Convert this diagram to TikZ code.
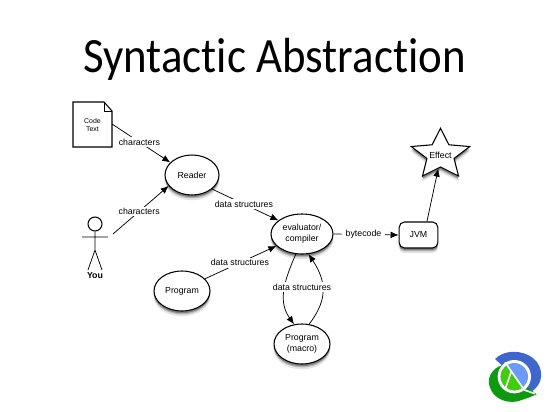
\documentclass[tikz,border=0pt]{standalone}
\usepackage{fontspec}
\setmainfont{Liberation Sans}
\newfontfamily\titlefont[Ligatures=NoCommon]{Carlito}
\usepackage{xcolor}
\usetikzlibrary{arrows.meta, shapes.geometric, shadows}
\definecolor{cljblue}{HTML}{3F66CC}
\definecolor{cljsky}{HTML}{6C9BF5}
\definecolor{cljgreen}{HTML}{0E9A0E}
\definecolor{cljlime}{HTML}{3FCF0A}
\tikzset{
  softshadow/.style={
    general shadow={shadow xshift=0pt, shadow yshift=-3.6pt, shadow scale=1.02, fill=black, opacity=.10},
    general shadow={shadow xshift=0pt, shadow yshift=-2.6pt, fill=black, opacity=.20},
    general shadow={shadow xshift=0pt, shadow yshift=-1.6pt, fill=black, opacity=.30}},
  blob/.style={ellipse, draw=black, thick, fill=white, softshadow, inner sep=0pt, align=center,
    font=\fontsize{6.6}{8}\selectfont},
  lab/.style={fill=white, inner xsep=3pt, inner ysep=1.2pt, font=\fontsize{6.6}{8}\selectfont},
  flow/.style={-{Latex[length=6pt,width=5pt]}, line width=.55pt}
}
\begin{document}
\begin{tikzpicture}[x=.75pt, y=-.75pt]
  \useasboundingbox (0,0) rectangle (549,411);
  % title
  \node[font=\titlefont\fontsize{37}{40}\selectfont, xscale=.91] (title) at (274.5,59) {Syntactic Abstraction};

  % nodes
  \node[blob, minimum width=40.5pt, minimum height=30pt] (reader) at (192,175) {Reader};
  \node[blob, minimum width=46.5pt, minimum height=30pt] (eval) at (302,234) {evaluator/\\compiler};
  \node[blob, minimum width=42pt, minimum height=30pt] (prog) at (182,291) {Program};
  \node[blob, minimum width=42pt, minimum height=30pt] (macro) at (302,344) {Program\\(macro)};
  \node[draw=black, thick, fill=white, rounded corners=4pt, softshadow, minimum width=29pt, minimum height=19.5pt,
    inner sep=0pt, font=\fontsize{6.6}{8}\selectfont] (jvm) at (418.5,235) {JVM};
  \node[star, star points=5, star point ratio=2.15, draw=black, thick, fill=white, softshadow, minimum size=46pt,
    inner sep=0pt, yscale=.86] (star) at (440.5,154.7) {};
  \node[font=\fontsize{6.6}{8}\selectfont, inner sep=0pt] (effect) at (440.5,155) {Effect};

  % document
  \draw[thick, fill=white] (73,102) -- (104,102) -- (112,111) -- (112,147) -- (73,147) -- cycle;
  \draw[line width=.5pt] (104,102) -- (104,111) -- (112,111);
  \node[align=center, font=\fontsize{5.2}{6.6}\selectfont, inner sep=0pt] (doc) at (92.5,125) {Code\\Text};
  \coordinate (docout) at (112,124);

  % person
  \node[circle, draw=black, thick, fill=white, minimum size=10.5pt, inner sep=0pt] (head) at (95,224) {};
  \coordinate (hip) at (95,250);
  \draw[line width=.55pt] (head.south) -- (hip) (82,237) -- (108,237) (hip) -- (88,270) (hip) -- (102,270);
  \node[font=\fontsize{6.6}{8}\selectfont\bfseries, inner sep=0pt] (you) at (95,276) {You};
  \coordinate (youout) at (113,234);

  % connectors
  \draw[flow] (docout) -- node[lab, pos=.47] (c1) {characters} (reader.150);
  \draw[flow] (youout) -- node[lab, pos=.47] (c2) {characters} (reader.205);
  \draw[flow] (reader.-35) -- node[lab, pos=.48] (d1) {data structures} (eval.150);
  \draw[flow] (prog.28) -- node[lab, pos=.49] (d2) {data structures} (eval.205);
  \draw[flow] (eval.east) -- node[lab, pos=.46] (b1) {bytecode} (jvm.west);
  \draw[flow] (jvm.58) -- (star.-98);
  \draw[flow] (eval.-107) .. controls (282,285) and (279,303) .. (macro.112);
  \draw[flow] (macro.70) .. controls (325,303) and (329,285) .. (eval.-72);
  \node[lab] (d3) at (302,287) {data structures};

  % logo
  \begin{scope}[shift={(485,345)}, x=.25pt, y=-.25pt]
    \fill[cljblue] (30,42) .. controls (55,15) and (110,12) .. (145,40)
      .. controls (178,68) and (178,120) .. (135,142) -- (88,95) -- cycle;
    \fill[cljgreen] (52,60) .. controls (20,70) and (5,100) .. (14,125)
      .. controls (25,165) and (75,180) .. (110,165) .. controls (125,160) and (140,155) .. (155,148)
      -- (88,95) -- cycle;
    \fill[white] (88,95) circle[radius=50];
    \fill[cljsky] (88,95) circle[radius=41];
    \begin{scope}
      \clip (88,95) circle[radius=41];
      \fill[cljlime] (40,40) -- (62,58) -- (118,135) -- (118,145) -- (40,145) -- cycle;
    \end{scope}
    \draw[white, line width=1.2pt] (60,52) -- (118,135) -- (150,146);
    \draw[white, line width=1.2pt] (78,82) -- (60,134);
  \end{scope}
\end{tikzpicture}
\end{document}
